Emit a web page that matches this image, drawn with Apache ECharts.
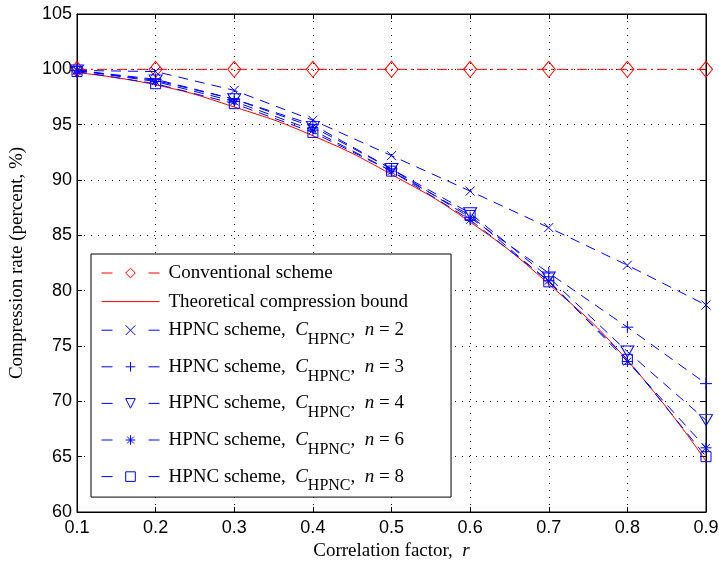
<!DOCTYPE html>
<html><head><meta charset="utf-8">
<script src="https://cdn.jsdelivr.net/npm/echarts@6.0.0/dist/echarts.min.js"></script>
<style>html,body{margin:0;padding:0;background:#fff}#c{width:719px;height:561px}</style>
</head><body><div id="c"></div>
<script>
// ---- data ----
const rLabels = ['0.1','0.2','0.3','0.4','0.5','0.6','0.7','0.8','0.9'];
const yTicks = { min: 60, max: 105, step: 5 };
const conventional = [100, 100, 100, 100, 100, 100, 100, 100, 100];
const bound = [99.7, 98.6, 96.6, 94.0, 90.5, 86.2, 80.6, 73.7, 64.6];
const hpnc2 = [99.9, 99.8, 98.1, 95.4, 92.2, 89.0, 85.7, 82.3, 78.7];
const hpnc3 = [99.9, 99.1, 97.3, 95.0, 91.0, 86.6, 81.6, 76.7, 71.6];
const hpnc4 = [99.9, 99.0, 97.3, 94.8, 91.0, 87.0, 81.2, 74.5, 68.3];
const hpnc6 = [99.9, 98.9, 97.1, 94.5, 90.8, 86.4, 80.9, 73.6, 65.8];
const hpnc8 = [99.8, 98.7, 96.9, 94.3, 90.8, 86.8, 80.8, 73.8, 65.0];
const nValues = [2, 3, 4, 6, 8];
const seriesNames = ['Conventional scheme', 'Theoretical compression bound',
  'HPNC n=2', 'HPNC n=3', 'HPNC n=4', 'HPNC n=6', 'HPNC n=8'];

// ---- style ----
const SERIF = 'Liberation Serif';
const SANS = 'Liberation Sans';
const BLUE = '#0000ff', RED = '#ff0000';
const dash = [10, 7];
const legendDash = [11, 36];
const symX = 'path://M0,0L10,10M10,0L0,10';
const symPlus = 'path://M5,0L5,10M0,5L10,5';
const symStar = 'path://M5,0L5,10M0,5L10,5M1.5,1.5L8.5,8.5M8.5,1.5L1.5,8.5';

function blueSeries(name, data, symbol, size, rotate) {
  return {
    name, type: 'line', data, symbol, symbolSize: size, symbolRotate: rotate || 0,
    lineStyle: { color: BLUE, width: 1, type: dash },
    itemStyle: { color: 'transparent', borderColor: BLUE, borderWidth: 1 },
    emphasis: { disabled: true }, z: 3
  };
}

const chart = echarts.init(document.getElementById('c'));
chart.setOption({
  animation: false,
  backgroundColor: '#fff',
  grid: { left: 77, right: 13, top: 14, bottom: 49, containLabel: false, outerBoundsMode: 'none',
          show: true, borderColor: '#000', borderWidth: 1, backgroundColor: 'transparent' },
  xAxis: [{
    type: 'category', data: rLabels, boundaryGap: false,
    axisLine: { show: true, lineStyle: { color: '#000', width: 1 } },
    axisTick: { show: true, inside: true, length: 5, lineStyle: { color: '#000' } },
    axisLabel: { color: '#000', fontFamily: SANS, fontSize: 18, margin: 7 },
    splitLine: { show: true, lineStyle: { color: '#000', type: [1, 6], width: 1 } },
    name: '{t|Correlation factor,  }{i|r}', nameLocation: 'middle', nameGap: 27,
    nameTextStyle: { rich: {
      t: { fontFamily: SERIF, fontSize: 19, color: '#000' },
      i: { fontFamily: SERIF, fontSize: 19, fontStyle: 'italic', color: '#000' } } }
  }, {
    type: 'category', data: rLabels, boundaryGap: false, position: 'top',
    axisLine: { show: true, lineStyle: { color: '#000' } },
    axisTick: { show: true, inside: true, length: 5, lineStyle: { color: '#000' } },
    axisLabel: { show: false }, splitLine: { show: false }
  }],
  yAxis: [{
    type: 'value', min: yTicks.min, max: yTicks.max, interval: yTicks.step,
    axisLine: { show: true, lineStyle: { color: '#000', width: 1 } },
    axisTick: { show: true, inside: true, length: 5, lineStyle: { color: '#000' } },
    axisLabel: { color: '#000', fontFamily: SANS, fontSize: 18, margin: 5 },
    splitLine: { show: true, lineStyle: { color: '#000', type: [1, 6], width: 1 } },
    name: 'Compression rate (percent, %)', nameLocation: 'middle', nameGap: 50,
    nameTextStyle: { fontFamily: SERIF, fontSize: 19, color: '#000' }
  }, {
    type: 'value', min: yTicks.min, max: yTicks.max, interval: yTicks.step, position: 'right',
    axisLine: { show: true, lineStyle: { color: '#000' } },
    axisTick: { show: true, inside: true, length: 5, lineStyle: { color: '#000' } },
    axisLabel: { show: false }, splitLine: { show: false }
  }],
  legend: {
    orient: 'vertical', left: 91, top: 254,
    padding: [9.5, 43, 3, 10], itemGap: 9.6, itemWidth: 58, itemHeight: 12,
    backgroundColor: '#fff', borderColor: '#000', borderWidth: 1,
    selectedMode: false,
    itemStyle: { borderWidth: 1 },
    lineStyle: { width: 1 },
    data: [
      { name: seriesNames[0], lineStyle: { type: legendDash } },
      { name: seriesNames[1], itemStyle: { color: 'transparent', borderWidth: 0 } },
      { name: seriesNames[2], lineStyle: { type: legendDash } },
      { name: seriesNames[3], lineStyle: { type: legendDash } },
      { name: seriesNames[4], lineStyle: { type: legendDash } },
      { name: seriesNames[5], lineStyle: { type: legendDash } },
      { name: seriesNames[6], lineStyle: { type: legendDash } }
    ],
    formatter: function (name) {
      const k = seriesNames.indexOf(name);
      if (k < 2) return '{p|' + name + '}';
      return '{t|HPNC scheme,  }{i|C}{s|HPNC}{t|,  }{i|n}{t| = ' + nValues[k - 2] + '}';
    },
    textStyle: {
      padding: [0, 0, 0, 4],
      rich: {
        p: { fontFamily: SERIF, fontSize: 19, lineHeight: 25, color: '#000' },
        t: { fontFamily: SERIF, fontSize: 19, lineHeight: 35, color: '#000', verticalAlign: 'middle' },
        i: { fontFamily: SERIF, fontSize: 19, lineHeight: 35, color: '#000', fontStyle: 'italic', verticalAlign: 'middle' },
        s: { fontFamily: SERIF, fontSize: 16, lineHeight: 14, color: '#000', verticalAlign: 'bottom' }
      }
    }
  },
  series: [
    {
      name: seriesNames[0], type: 'line', data: conventional, symbol: 'diamond', symbolSize: [13, 16],
      lineStyle: { color: RED, width: 1, type: [10, 4, 2, 4] },
      itemStyle: { color: 'transparent', borderColor: RED, borderWidth: 1 },
      emphasis: { disabled: true }, z: 2
    },
    {
      name: seriesNames[1], type: 'line', data: bound, symbol: 'none', smooth: true,
      lineStyle: { color: RED, width: 1, type: 'solid' },
      itemStyle: { color: 'transparent', borderWidth: 0 }, emphasis: { disabled: true }, z: 2
    },
    blueSeries(seriesNames[2], hpnc2, symX, 9),
    blueSeries(seriesNames[3], hpnc3, symPlus, 12),
    blueSeries(seriesNames[4], hpnc4, 'triangle', [13, 11], 180),
    blueSeries(seriesNames[5], hpnc6, symStar, 11),
    blueSeries(seriesNames[6], hpnc8, 'rect', 10)
  ]
});
</script>
</body></html>
